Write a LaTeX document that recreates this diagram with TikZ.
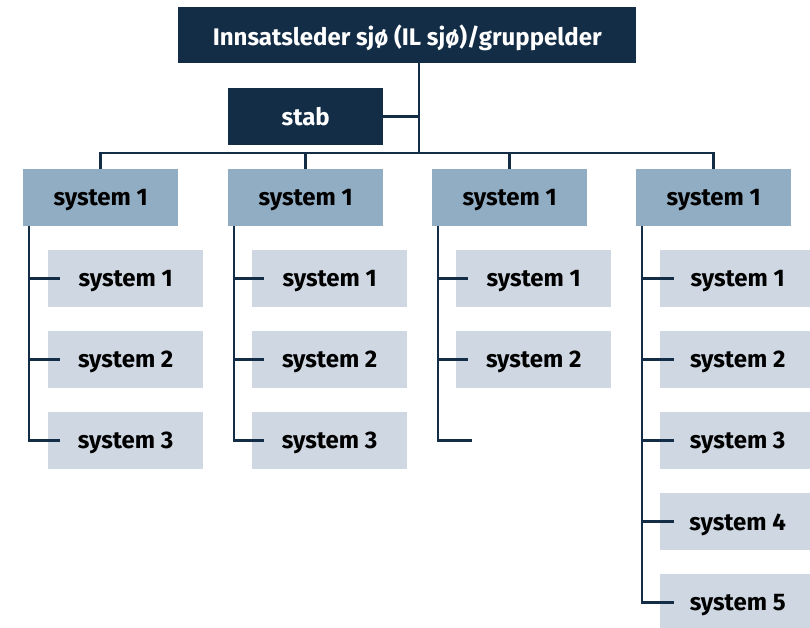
\documentclass[tikz,border=0pt]{standalone}
\usepackage{fontspec}
\setmainfont{Fira Sans}[BoldFont={Fira Sans Bold}]
\definecolor{navy}{HTML}{132D46}
\definecolor{midblue}{HTML}{91ADC3}
\definecolor{lightblue}{HTML}{CFD8E2}
\begin{document}
\begin{tikzpicture}[x=1pt,y=-1pt,
  box/.style={anchor=north west,minimum width=155pt,minimum height=57pt,inner sep=0pt,text depth=0pt,font=\fontsize{24}{28}\selectfont\bfseries},
  topbox/.style={box,fill=navy,text=white},
  lvlone/.style={box,fill=midblue,text=black},
  lvltwo/.style={box,fill=lightblue,text=black},
  conn/.style={draw=navy,line width=2.6pt}]
\useasboundingbox (0,0) rectangle (810,627);
\clip (0,0) rectangle (810,627);
\node[topbox,minimum width=458pt,minimum height=56pt] (top) at (178,7) {Innsatsleder sjø (IL sjø)/gruppelder};
\node[topbox] (stab) at (228,88) {stab};
\coordinate (bus) at (419,153);
\foreach \i/\x in {1/23,2/228,3/432,4/636}{
  \node[lvlone] (c\i) at (\x,169) {system 1};
  \coordinate (t\i) at (\x+6,226);
}
% children
\foreach \j in {1,2,3}{
  \node[lvltwo] (a\j) at (48,{250+81*(\j-1)}) {system \j};
  \node[lvltwo] (b\j) at (252,{250+81*(\j-1)}) {system \j};
}
\foreach \j in {1,2}{
  \node[lvltwo] (d\j) at (456,{250+81*(\j-1)}) {system \j};
}
\coordinate (d3) at (456,440.5);
\foreach \j in {1,...,5}{
  \node[lvltwo] (e\j) at (660,{250+81*(\j-1)}) {system \j};
}
% connectors
\draw[conn] (top.south -| bus) -- (bus);
\draw[conn] (stab.east) -- (stab.east -| bus);
\draw[conn] (c1.north) |- (bus) -| (c4.north);
\draw[conn] (c2.north) -- (c2.north |- bus);
\draw[conn] (c3.north) -- (c3.north |- bus);
% trunks
\draw[conn] (t1) |- ([xshift=12pt]a3.west);
\foreach \j in {1,2}{\draw[conn] (t1 |- a\j.west) -- ([xshift=12pt]a\j.west);}
\draw[conn] (t2) |- ([xshift=12pt]b3.west);
\foreach \j in {1,2}{\draw[conn] (t2 |- b\j.west) -- ([xshift=12pt]b\j.west);}
\draw[conn] (t3) |- ([xshift=16pt]d3);
\foreach \j in {1,2}{\draw[conn] (t3 |- d\j.west) -- ([xshift=12pt]d\j.west);}
\draw[conn] (t4) |- ([xshift=14pt]e5.west);
\foreach \j in {1,2,3,4}{\draw[conn] (t4 |- e\j.west) -- ([xshift=14pt]e\j.west);}
\end{tikzpicture}
\end{document}
